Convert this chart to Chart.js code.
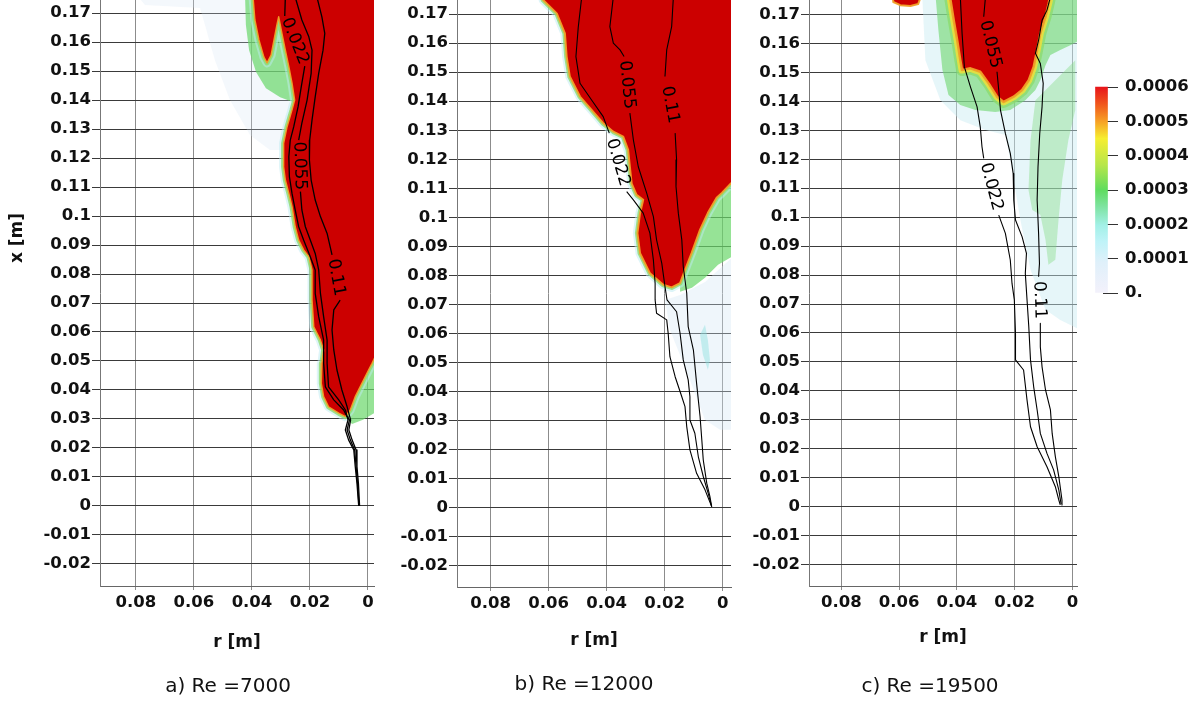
<!DOCTYPE html>
<html>
<head>
<meta charset="utf-8">
<script src="https://cdn.jsdelivr.net/npm/chart.js@4.4.1/dist/chart.umd.min.js"></script>
<style>
html,body{margin:0;padding:0;background:#fff;width:1201px;height:704px;overflow:hidden;position:relative;}
canvas{position:absolute;top:0;}
</style>
</head>
<body>
<canvas id="ca" width="380" height="704" style="left:0px"></canvas>
<canvas id="cb" width="357" height="704" style="left:380px"></canvas>
<canvas id="cc" width="345" height="704" style="left:737px"></canvas>
<canvas id="cbar" width="119" height="704" style="left:1082px"></canvas>
<script>
// ---------- tick values / labels ----------
const rTicks = [0.08, 0.06, 0.04, 0.02, 0];
const rTickLabels = ['0.08', '0.06', '0.04', '0.02', '0'];
const xTicks = [-0.02,-0.01,0,0.01,0.02,0.03,0.04,0.05,0.06,0.07,0.08,0.09,0.1,0.11,0.12,0.13,0.14,0.15,0.16,0.17];
const xTickLabels = ['-0.02','-0.01','0','0.01','0.02','0.03','0.04','0.05','0.06','0.07','0.08','0.09','0.1','0.11','0.12','0.13','0.14','0.15','0.16','0.17'];
const levels = ['0.022', '0.055', '0.11'];
const captions = ['a) Re =7000', 'b) Re =12000', 'c) Re =19500'];
const cbTicks = [0, 0.0001, 0.0002, 0.0003, 0.0004, 0.0005, 0.0006];
const cbTickLabels = ['0.', '0.0001', '0.0002', '0.0003', '0.0004', '0.0005', '0.0006'];
const cbMax = 0.0006;

// ---------- panel a (Re = 7000) ----------
const aRedR = [0.0397,0.0390,0.0376,0.0359,0.0348,0.0334,0.0324,0.0314,0.0308,0.0297,0.0285,0.0273,0.0262,0.0253,0.0262,0.0279,0.0291,0.0291,0.0285,0.0273,0.0262,0.0251,0.0239,0.0222,0.0204,0.0193,0.0193,0.0187,0.0164,0.0153,0.0159,0.0161,0.0153,0.0136,0.0101,0.0078,0.0061,0.0044,0.0021,-0.0002,-0.0014,-0.0028,-0.0060,-0.0060];
const aRedX = [0.1762,0.1676,0.1607,0.1548,0.1528,0.1555,0.1607,0.1659,0.1687,0.1631,0.1572,0.1515,0.1458,0.1400,0.1366,0.1308,0.1251,0.1170,0.1124,0.1078,0.1032,0.0963,0.0917,0.0883,0.0860,0.0814,0.0710,0.0618,0.0572,0.0538,0.0492,0.0423,0.0377,0.0342,0.0320,0.0308,0.0331,0.0377,0.0423,0.0469,0.0492,0.0521,0.0521,0.1762];
const aGreenR = [0.0424,0.0421,0.0410,0.0386,0.0352,0.0303,0.0259,0.0259];
const aGreenX = [0.1762,0.1659,0.1572,0.1497,0.1441,0.1410,0.1393,0.1762];
const aGreen2R = [-0.0028,0.0007,0.0041,0.0076,0.0055,0.0017,-0.0028];
const aGreen2X = [0.0538,0.0452,0.0372,0.0303,0.0283,0.0297,0.0324];
const aHazeR = [0.0797,0.0769,0.0579,0.0562,0.0528,0.0476,0.0407,0.0338,0.0286,0.0269,0.0286,0.0372];
const aHazeX = [0.1762,0.1728,0.1717,0.1659,0.1538,0.1400,0.1279,0.1228,0.1228,0.1366,0.1538,0.1762];
const a022R = [0.0285,0.0287,null,0.0218,0.0230,0.0241,0.0256,0.0268,0.0273,0.0271,0.0262,0.0251,0.0239,0.0222,0.0200,0.0182,0.0182,0.0170,0.0153,0.0153,0.0147,0.0118,0.0084,0.0072,0.0069,0.0078,0.0067,0.0049,0.0044,0.0038,0.0032];
const a022X = [0.1755,0.1690,null,0.1517,0.1446,0.1377,0.1308,0.1262,0.1204,0.1136,0.1078,0.1021,0.0963,0.0917,0.0862,0.0814,0.0733,0.0653,0.0572,0.0492,0.0411,0.0366,0.0331,0.0308,0.0297,0.0262,0.0228,0.0193,0.0136,0.0078,0.0000];
const a055R = [0.0251,0.0228,0.0204,0.0193,0.0196,0.0210,0.0228,0.0239,null,0.0233,0.0228,0.0216,0.0199,0.0182,0.0170,0.0164,0.0153,0.0141,0.0141,0.0136,0.0101,0.0078,0.0072,0.0064,0.0072,0.0061,0.0046,0.0041,0.0036,0.0031];
const a055X = [0.1755,0.1676,0.1618,0.1572,0.1492,0.1400,0.1320,0.1262,null,0.1084,0.1021,0.0963,0.0917,0.0871,0.0814,0.0733,0.0653,0.0572,0.0492,0.0411,0.0366,0.0331,0.0308,0.0297,0.0262,0.0228,0.0193,0.0136,0.0078,0.0000];
const a011R = [0.0176,0.0159,0.0149,0.0155,0.0170,0.0182,0.0193,0.0201,0.0202,0.0196,0.0182,0.0164,0.0141,0.0124,null,0.0096,0.0118,0.0124,0.0118,0.0107,0.0090,0.0072,0.0060,0.0066,0.0055,0.0041,0.0038,0.0033,0.0029];
const a011X = [0.1755,0.1687,0.1630,0.1572,0.1492,0.1411,0.1331,0.1262,0.1193,0.1124,0.1055,0.0998,0.0940,0.0866,null,0.0710,0.0676,0.0607,0.0538,0.0469,0.0400,0.0342,0.0297,0.0262,0.0228,0.0193,0.0136,0.0078,0.0000];

// ---------- panel b (Re = 12000) ----------
const bRedR = [0.0620,0.0619,0.0572,0.0544,0.0538,0.0527,0.0492,0.0452,0.0412,0.0377,0.0343,0.0326,0.0320,0.0314,0.0297,0.0274,0.0285,0.0294,0.0285,0.0251,0.0205,0.0176,0.0147,0.0130,0.0107,0.0078,0.0051,0.0021,0.0003,-0.0029,-0.0060,-0.0060];
const bRedX = [0.1767,0.1749,0.1703,0.1634,0.1554,0.1485,0.1416,0.1370,0.1324,0.1295,0.1278,0.1232,0.1174,0.1117,0.1077,0.1060,0.1014,0.0945,0.0876,0.0807,0.0767,0.0758,0.0773,0.0818,0.0877,0.0957,0.1015,0.1067,0.1084,0.1117,0.1117,0.1767];
const bGreenR = [-0.0042,0.0002,0.0037,0.0068,0.0096,0.0120,0.0147,0.0147,0.0106,0.0061,0.0016,-0.0042];
const bGreenX = [0.1146,0.1112,0.1067,0.1008,0.0939,0.0860,0.0784,0.0743,0.0757,0.0791,0.0836,0.0870];
const bHazeR = [-0.0042,0.0061,0.0147,0.0199,0.0182,0.0113,0.0061,0.0009,-0.0042];
const bHazeX = [0.0870,0.0777,0.0732,0.0715,0.0612,0.0439,0.0301,0.0267,0.0267];
const bCyanR = [0.0061,0.0078,0.0068,0.0051,0.0044,0.0051];
const bCyanX = [0.0629,0.0595,0.0525,0.0474,0.0508,0.0577];
const b022R = [0.0486,0.0498,0.0506,0.0492,0.0452,0.0412,0.0391,null,0.0331,0.0308,0.0274,0.0251,0.0239,0.0233,0.0233,0.0228,0.0193,0.0188,0.0182,0.0164,0.0141,0.0130,0.0124,0.0113,0.0090,0.0061,0.0038];
const b022X = [0.1760,0.1655,0.1554,0.1462,0.1404,0.1347,0.1290,null,0.1088,0.1060,0.1014,0.0945,0.0853,0.0772,0.0715,0.0669,0.0646,0.0600,0.0519,0.0450,0.0381,0.0347,0.0278,0.0198,0.0117,0.0060,0.0002];
const b055R = [0.0377,0.0389,0.0377,0.0354,0.0340,null,0.0320,0.0308,0.0291,0.0262,0.0239,0.0228,0.0210,0.0199,0.0192,0.0159,0.0147,0.0136,0.0119,0.0113,0.0113,0.0096,0.0084,0.0067,0.0050,0.0038];
const b055X = [0.1760,0.1657,0.1600,0.1577,0.1554,null,0.1359,0.1267,0.1174,0.1083,0.1002,0.0922,0.0841,0.0761,0.0715,0.0674,0.0600,0.0508,0.0439,0.0381,0.0301,0.0255,0.0174,0.0106,0.0048,0.0002];
const b011R = [0.0170,0.0176,0.0193,0.0199,null,0.0164,0.0159,0.0161,0.0153,0.0141,0.0136,0.0124,0.0119,0.0101,0.0090,0.0078,0.0072,0.0067,0.0055,0.0044,0.0038];
const b011X = [0.1760,0.1657,0.1577,0.1485,null,0.1290,0.1198,0.1106,0.1014,0.0922,0.0830,0.0738,0.0623,0.0542,0.0427,0.0312,0.0232,0.0163,0.0083,0.0037,0.0002];

// ---------- panel c (Re = 19500) ----------
const cRedR = [0.0422,0.0422,0.0411,0.0399,0.0388,0.0382,0.0353,0.0319,0.0290,0.0261,0.0238,0.0203,0.0174,0.0151,0.0134,0.0122,0.0111,0.0093,0.0082,0.0076];
const cRedX = [0.1767,0.1750,0.1681,0.1612,0.1542,0.1508,0.1514,0.1502,0.1462,0.1416,0.1398,0.1416,0.1439,0.1473,0.1519,0.1577,0.1635,0.1692,0.1738,0.1767];
const cBlobR = [0.0623,0.0620,0.0596,0.0561,0.0534,0.0523];
const cBlobX = [0.1767,0.1743,0.1732,0.1729,0.1736,0.1767];
const cGreenR = [0.0474,0.0464,0.0450,0.0429,0.0388,0.0336,0.0267,0.0215,0.0163,0.0128,0.0111,0.0093,0.0076,0.0042,0.0007,-0.0028,-0.0028];
const cGreenX = [0.1767,0.1646,0.1508,0.1422,0.1387,0.1370,0.1363,0.1370,0.1404,0.1439,0.1473,0.1525,0.1560,0.1577,0.1594,0.1612,0.1767];
const cGreen2R = [0.0128,0.0145,0.0152,0.0139,0.0111,0.0093,0.0083,0.0059,0.0048,0.0035,0.0014,-0.0010,-0.0010];
const cGreen2X = [0.1404,0.1266,0.1094,0.1025,0.1008,0.0921,0.0836,0.0853,0.0990,0.1128,0.1266,0.1370,0.1542];
const cHazeR = [0.0520,0.0509,0.0457,0.0388,0.0301,0.0232,0.0215,0.0180,0.0145,0.0093,0.0042,-0.0028,-0.0028];
const cHazeX = [0.1767,0.1542,0.1404,0.1335,0.1301,0.1284,0.1197,0.0990,0.0818,0.0680,0.0645,0.0610,0.1767];
const c022R = [0.0388,0.0382,0.0374,0.0353,0.0330,0.0319,0.0313,0.0307,null,0.0255,0.0232,0.0215,0.0209,0.0201,0.0197,0.0197,0.0169,0.0157,0.0145,0.0122,0.0088,0.0059,0.0047,0.0042];
const c022X = [0.1760,0.1635,0.1519,0.1450,0.1381,0.1312,0.1243,0.1203,null,0.1007,0.0944,0.0852,0.0771,0.0714,0.0599,0.0507,0.0472,0.0368,0.0276,0.0207,0.0138,0.0069,0.0023,0.0006];
const c055R = [0.0301,0.0307,null,0.0261,0.0255,0.0249,0.0232,0.0215,0.0205,0.0203,0.0197,0.0174,0.0159,0.0163,0.0157,0.0151,0.0145,0.0134,0.0122,0.0111,0.0088,0.0065,0.0047,0.0039];
const c055X = [0.1760,0.1692,null,0.1502,0.1439,0.1370,0.1289,0.1220,0.1151,0.1059,0.0990,0.0932,0.0875,0.0806,0.0714,0.0622,0.0507,0.0414,0.0334,0.0253,0.0184,0.0127,0.0058,0.0009];
const c011R = [0.0076,0.0088,0.0105,0.0117,0.0128,0.0111,0.0101,0.0105,0.0113,0.0119,0.0122,0.0117,0.0114,0.0117,null,0.0111,0.0111,0.0105,0.0093,0.0076,0.0070,0.0059,0.0047,0.0036,0.0036];
const c011X = [0.1760,0.1715,0.1680,0.1611,0.1566,0.1531,0.1462,0.1381,0.1289,0.1174,0.1059,0.0944,0.0840,0.0794,null,0.0633,0.0552,0.0483,0.0403,0.0334,0.0253,0.0173,0.0104,0.0023,0.0006];

// ---------- styling ----------
const FONT = "'DejaVu Sans', sans-serif";
Chart.defaults.font.family = FONT;
Chart.defaults.color = '#111';
const RED = '#cc0000';
const TICKFONT = {size: 16.5, weight: 'bold'};
const cbStops = [[0,'#f3f1fb'],[0.15,'#dff0fa'],[0.25,'#bff3f8'],[0.33,'#a2f0e6'],[0.42,'#7ee3a0'],[0.5,'#5fdc5f'],[0.62,'#b6e64a'],[0.75,'#f6ee30'],[0.83,'#f7a325'],[0.92,'#f0541c'],[1,'#e8141a']];

const pts = (R, X) => R.map((r, i) => ({x: r, y: X[i]}));

const contourLabelPlugin = {
  id: 'contourLabels',
  afterDatasetsDraw(chart) {
    const {ctx, chartArea: a} = chart;
    ctx.save();
    ctx.beginPath(); ctx.rect(a.left, a.top, a.right - a.left, a.bottom - a.top); ctx.clip();
    ctx.font = "17px " + FONT;
    ctx.fillStyle = '#000'; ctx.textAlign = 'center'; ctx.textBaseline = 'middle';
    chart.data.datasets.forEach((ds, i) => {
      if (!ds.contour) return;
      const meta = chart.getDatasetMeta(i);
      const j = ds.data.findIndex(p => p.y === null);
      if (j < 1) return;
      const p1 = meta.data[j - 1], p2 = meta.data[j + 1];
      let ang = Math.atan2(p2.y - p1.y, p2.x - p1.x);
      if (ang > Math.PI / 2) ang -= Math.PI;
      if (ang < -Math.PI / 2) ang += Math.PI;
      ctx.save();
      ctx.translate((p1.x + p2.x) / 2, (p1.y + p2.y) / 2);
      ctx.rotate(ang);
      ctx.fillText(ds.label, 0, 0);
      ctx.restore();
    });
    ctx.restore();
  }
};

const textPlugin = {
  id: 'texts',
  afterDraw(chart, args, opts) {
    const ctx = chart.ctx;
    (opts.items || []).forEach(t => {
      ctx.save();
      ctx.font = t.font; ctx.fillStyle = '#111'; ctx.textAlign = 'center'; ctx.textBaseline = 'middle';
      ctx.translate(t.x, t.y);
      if (t.rot) ctx.rotate(t.rot);
      ctx.fillText(t.text, 0, 0);
      ctx.restore();
    });
  }
};

const base = {showLine: true, pointRadius: 0, pointHoverRadius: 0, clip: 0, borderJoinStyle: 'round'};
function contour(R, X, label, w) {
  return Object.assign({}, base, {data: pts(R, X), label, contour: true, borderColor: '#000', borderWidth: w || 1.1, fill: false});
}
function redShape(R, X, edgeW) {
  return Object.assign({}, base, {data: pts(R, X), fill: 'shape', backgroundColor: RED, borderColor: 'rgba(240,160,40,0.95)', borderWidth: edgeW});
}
function halo(R, X, color, w) {
  return Object.assign({}, base, {data: pts(R, X), fill: false, borderColor: color, borderWidth: w});
}
function region(R, X, color) {
  return Object.assign({}, base, {data: pts(R, X), fill: 'shape', backgroundColor: color, borderColor: 'rgba(0,0,0,0)', borderWidth: 0});
}
function noPad(s) { s.paddingTop = 0; s.paddingBottom = 0; s.paddingLeft = 0; s.paddingRight = 0; }

function makePanel(id, c) {
  return new Chart(document.getElementById(id), {
    type: 'scatter',
    data: {datasets: c.datasets},
    options: {
      responsive: false, animation: false, events: [],
      layout: {autoPadding: false, padding: {left: 0, right: c.padRight, top: 0, bottom: 0}},
      plugins: {legend: {display: false}, tooltip: {enabled: false}, texts: {items: c.texts}},
      scales: {
        x: {
          type: 'linear', reverse: true, min: c.rMin, max: c.rMax,
          afterBuildTicks: s => { s.ticks = rTicks.map(v => ({value: v})); },
          afterFit: s => { s.height = c.xH; noPad(s); },
          ticks: {callback: v => rTickLabels[rTicks.indexOf(v)], padding: 3, color: '#111', font: TICKFONT, maxRotation: 0, autoSkip: false},
          grid: {color: '#8c8c8c', tickLength: 4, tickColor: '#8c8c8c', lineWidth: 1},
          border: {color: '#666', width: 1},
          title: {display: true, text: 'r [m]', color: '#111', font: {size: 17, weight: 'bold'}, padding: {top: 0, bottom: c.titlePad}}
        },
        y: {
          type: 'linear', min: c.xMin, max: c.xMax,
          afterBuildTicks: s => { s.ticks = xTicks.map(v => ({value: v})); },
          afterFit: s => { s.width = c.yW; noPad(s); },
          ticks: {callback: v => xTickLabels[xTicks.indexOf(v)], padding: 1, color: '#111', font: TICKFONT, autoSkip: false},
          grid: {color: '#3a3a3a', tickLength: 8, tickColor: '#3a3a3a', lineWidth: 1},
          border: {color: '#777', width: 1}
        }
      }
    },
    plugins: [contourLabelPlugin, textPlugin]
  });
}

const GREEN = 'rgba(105,215,105,0.7)';
const HAZE = 'rgba(210,228,244,0.25)';
const H1 = 'rgba(140,220,110,0.8)';
const H2 = 'rgba(190,235,242,0.5)';

makePanel('ca', {
  rMin: -0.00207, rMax: 0.0924, xMin: -0.0276, xMax: 0.1745,
  yW: 100, padRight: 6, xH: 118, titlePad: 51,
  texts: [
    {text: captions[0], x: 228, y: 687, font: '20px ' + FONT},
    {text: 'x [m]', x: 18, y: 238, rot: -Math.PI / 2, font: 'bold 17px ' + FONT}
  ],
  datasets: [
    contour(a022R, a022X, levels[0], 1.3),
    contour(a055R, a055X, levels[1], 1.3),
    contour(a011R, a011X, levels[2], 1.3),
    redShape(aRedR, aRedX, 1.5),
    halo(aRedR, aRedX, H1, 5),
    halo(aRedR, aRedX, H2, 9),
    region(aGreenR, aGreenX, GREEN),
    region(aGreen2R, aGreen2X, GREEN),
    region(aHazeR, aHazeX, HAZE)
  ]
});

makePanel('cb', {
  rMin: -0.00286, rMax: 0.0916, xMin: -0.0275, xMax: 0.1749,
  yW: 77, padRight: 6, xH: 117, titlePad: 53,
  texts: [{text: captions[1], x: 204, y: 685, font: '20px ' + FONT}],
  datasets: [
    contour(b022R, b022X, levels[0]),
    contour(b055R, b055X, levels[1]),
    contour(b011R, b011X, levels[2]),
    redShape(bRedR, bRedX, 2),
    halo(bRedR, bRedX, H1, 5),
    halo(bRedR, bRedX, H2, 9),
    region(bGreenR, bGreenX, GREEN),
    region(bCyanR, bCyanX, 'rgba(140,225,225,0.45)'),
    region(bHazeR, bHazeX, 'rgba(210,228,244,0.35)')
  ]
});

makePanel('cc', {
  rMin: -0.0016, rMax: 0.0912, xMin: -0.0274, xMax: 0.1750,
  yW: 72, padRight: 5, xH: 118, titlePad: 56,
  texts: [{text: captions[2], x: 193, y: 687, font: '20px ' + FONT}],
  datasets: [
    contour(c022R, c022X, levels[0]),
    contour(c055R, c055X, levels[1]),
    contour(c011R, c011X, levels[2]),
    redShape(cRedR, cRedX, 2.5),
    redShape(cBlobR, cBlobX, 2),
    halo(cRedR, cRedX, 'rgba(240,225,60,0.85)', 7),
    halo(cRedR, cRedX, H1, 12),
    region(cGreenR, cGreenX, 'rgba(110,215,110,0.6)'),
    region(cGreen2R, cGreen2X, 'rgba(130,220,130,0.4)'),
    region(cHazeR, cHazeX, 'rgba(200,235,242,0.45)')
  ]
});

// ---------- colour bar ----------
new Chart(document.getElementById('cbar'), {
  type: 'bar',
  data: {datasets: [{
    data: [{x: 1, y: cbMax}],
    barThickness: 12, clip: false, borderWidth: 0,
    backgroundColor: (ctx) => {
      const ch = ctx.chart, a = ch.chartArea;
      if (!a) return '#ccc';
      const g = ch.ctx.createLinearGradient(0, a.bottom, 0, a.top);
      cbStops.forEach(s => g.addColorStop(s[0], s[1]));
      return g;
    }
  }]},
  options: {
    responsive: false, animation: false, events: [],
    layout: {autoPadding: false, padding: {left: 15, right: 0, top: 87, bottom: 411}},
    plugins: {legend: {display: false}, tooltip: {enabled: false}},
    scales: {
      x: {type: 'linear', min: 0, max: 1, display: false},
      y: {
        position: 'right', min: 0, max: cbMax,
        afterBuildTicks: s => { s.ticks = cbTicks.map(v => ({value: v})); },
        afterFit: s => { s.width = 98; noPad(s); },
        ticks: {callback: v => cbTickLabels[cbTicks.indexOf(v)], padding: 7, color: '#111', font: TICKFONT, autoSkip: false},
        grid: {drawOnChartArea: false, tickLength: 15, tickColor: '#333', lineWidth: 1},
        border: {display: false}
      }
    }
  }
});
</script>
</body>
</html>
